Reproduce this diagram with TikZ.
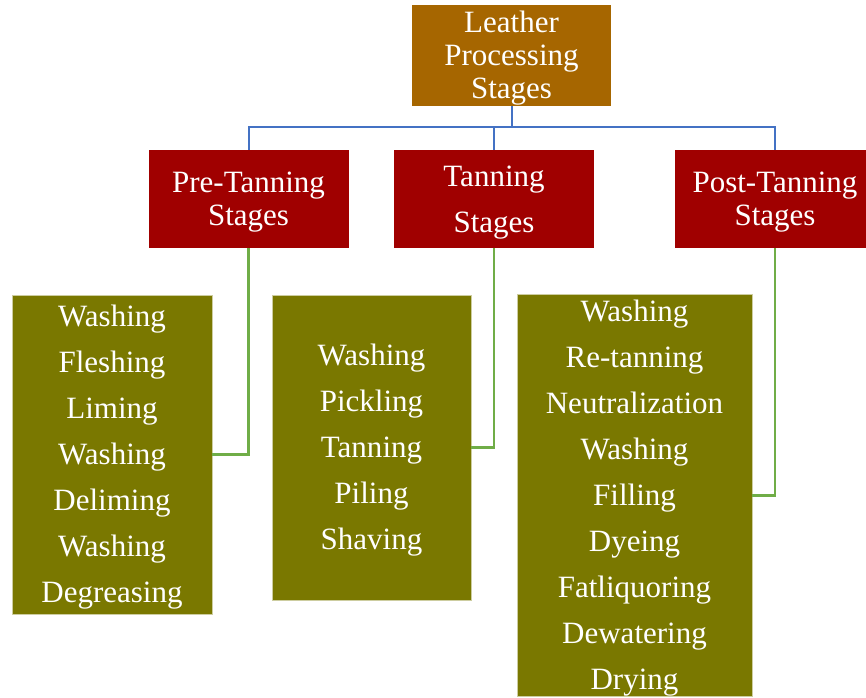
\documentclass[tikz,border=0pt]{standalone}
\usepackage{fontspec}
\setmainfont{Liberation Serif}
\definecolor{rootc}{RGB}{166,102,0}
\definecolor{redc}{RGB}{160,0,0}
\definecolor{olivec}{RGB}{122,120,0}
\definecolor{bluec}{RGB}{68,114,196}
\definecolor{greenc}{RGB}{112,173,71}
\newcommand{\tstr}{\rule{0pt}{27.5pt}}
\tikzset{
  box/.style={inner sep=0pt, align=center, text=white, minimum width=200pt, minimum height=98pt},
  rootbox/.style={box, fill=rootc, font=\fontsize{31}{33}\selectfont, minimum width=199pt, minimum height=99pt},
  stagebox/.style={box, fill=redc, font=\fontsize{31}{33}\selectfont},
  listbox/.style={box, fill=olivec, draw={rgb,255:red,205;green,205;blue,160}, line width=0.8pt, font=\fontsize{31}{46}\selectfont},
  busline/.style={draw=bluec, line width=2pt},
  leafline/.style={draw=greenc, line width=2.5pt}
}
\begin{document}
\begin{tikzpicture}[x=1pt,y=-1pt]
\clip (0,0) rectangle (866,697);
\fill[white] (0,0) rectangle (866,697);
\node[rootbox] (root) at (511.5,55.5) {\tstr Leather\\Processing\\Stages};
\node[stagebox] (pre) at (248.5,199) {\tstr Pre-Tanning\\Stages};
\node[stagebox, font=\fontsize{31}{46}\selectfont] (tan) at (494,199) {\tstr Tanning\\Stages};
\node[stagebox] (post) at (775,199) {\tstr Post-Tanning\\Stages};
\node[listbox, minimum width=200pt, minimum height=319pt] (b1) at (112,454.5) {\tstr Washing\\Fleshing\\Liming\\Washing\\Deliming\\Washing\\Degreasing};
\node[listbox, minimum width=199pt, minimum height=305pt] (b2) at (371.5,447.5) {\tstr Washing\\Pickling\\Tanning\\Piling\\Shaving};
\node[listbox, minimum width=235pt, minimum height=401pt] (b3) at (634.5,495.5) {\tstr Washing\\Re-tanning\\Neutralization\\Washing\\Filling\\Dyeing\\Fatliquoring\\Dewatering\\Drying};
\coordinate (bus) at (511.5,127);
\draw[busline] (root.south) -- (bus);
\draw[busline] (pre.north) |- (bus) -| (post.north);
\draw[busline] (tan.north) -- (tan.north |- bus);
\draw[leafline] (pre.south) |- (b1.east);
\draw[leafline] (tan.south) |- (b2.east);
\draw[leafline] (post.south) |- (b3.east);
\end{tikzpicture}
\end{document}
